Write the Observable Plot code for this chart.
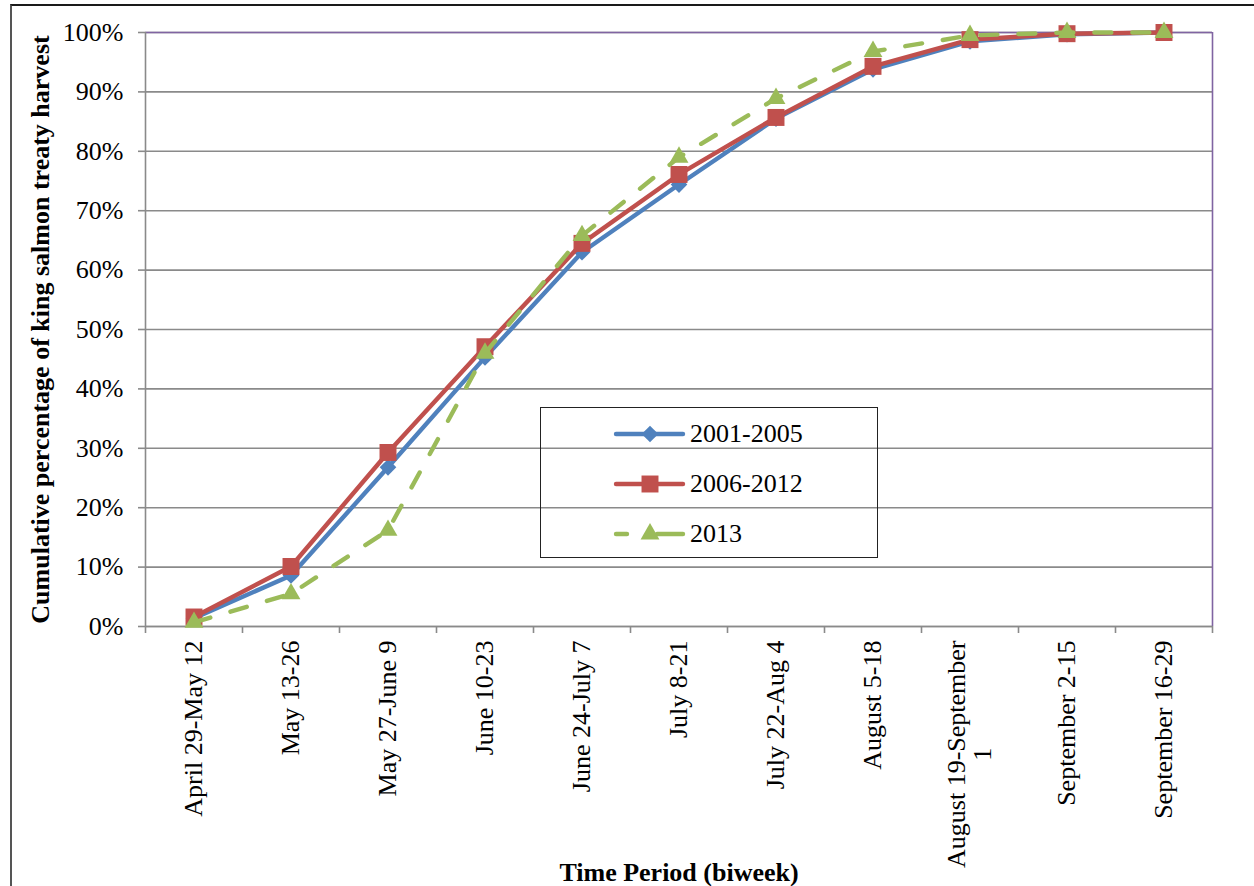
<!DOCTYPE html>
<html>
<head>
<meta charset="utf-8">
<script src="https://cdn.jsdelivr.net/npm/d3@7"></script>
<script src="https://cdn.jsdelivr.net/npm/@observablehq/plot@0.6"></script>
<style>
  html, body { margin: 0; padding: 0; background: #fff; overflow: hidden; }
  #wrap { position: relative; width: 1254px; height: 886px; }
  #frame { position: absolute; left: 10px; top: 4px; width: 1300px; height: 950px;
           border-top: 2px solid #1a1a1a; border-left: 2px solid #555; pointer-events: none; }
  #legend { position: absolute; left: 540px; top: 407px; width: 336px; height: 149px;
            border: 1.5px solid #222; font-family: "Liberation Serif", "Times New Roman", serif;
            font-size: 26px; color: #000; }
  .lg-row { position: absolute; left: 72px; height: 30px; display: flex; align-items: center; }
  .lg-row svg { margin-right: 4px; }
</style>
</head>
<body>
<div id="wrap">
  <div id="chart"></div>
  <div id="frame"></div>
  <div id="legend"></div>
</div>
<script>
const periods = [
  "April 29-May 12", "May 13-26", "May 27-June 9", "June 10-23", "June 24-July 7",
  "July 8-21", "July 22-Aug 4", "August 5-18", "August 19-September\n1",
  "September 2-15", "September 16-29"
];
const seriesNames = ["2001-2005", "2006-2012", "2013"];
const s2001_2005 = [1.4, 8.6, 26.8, 45.3, 63.0, 74.4, 85.5, 93.8, 98.5, 99.7, 100];
const s2006_2012 = [1.6, 10.1, 29.3, 47.1, 64.5, 76.1, 85.7, 94.3, 98.8, 99.8, 100];
const s2013      = [0.7, 5.5, 16.2, 46.0, 65.8, 79.0, 88.9, 96.8, 99.5, 100, 100];
const yTicks = [0, 10, 20, 30, 40, 50, 60, 70, 80, 90, 100];
const yTitle = "Cumulative percentage of king salmon treaty harvest";
const xTitle = "Time Period (biweek)";

const colors = ["#4f81bd", "#c0504d", "#9bbb59"];
const symbols = ["diamond2", "square2", "triangle"];
const radii = [7.5, 10.8, 7];
const dashes = [null, null, "17,21"];

const allSeries = [s2001_2005, s2006_2012, s2013];
const idx = d3.range(periods.length);
const boundaries = d3.range(periods.length + 1).map(i => i - 0.5);

const seriesMarks = allSeries.flatMap((vals, k) => {
  const data = vals.map((v, i) => ({i, v, s: seriesNames[k]}));
  return [
    Plot.line(data, {x: "i", y: "v", stroke: colors[k], strokeWidth: 4.4,
      strokeLinejoin: "round", strokeLinecap: "round",
      strokeDasharray: dashes[k] ?? undefined}),
    Plot.dot(data, {x: "i", y: "v", symbol: () => symbols[k], r: radii[k],
      fill: colors[k], stroke: "none"})
  ];
});

const plot = Plot.plot({
  width: 1254,
  height: 886,
  marginLeft: 145,
  marginRight: 42,
  marginTop: 32,
  marginBottom: 260,
  style: {fontFamily: "'Liberation Serif', 'Times New Roman', serif", fontSize: "26px", color: "#000", background: "transparent", overflow: "visible"},
  x: {domain: [boundaries[0], boundaries[boundaries.length - 1]]},
  y: {domain: [0, 100]},
  marks: [
    Plot.gridY(yTicks, {stroke: "#8a8a8a", strokeOpacity: 1, strokeWidth: 1.6}),
    Plot.ruleY([100], {stroke: "#8064a2", strokeWidth: 1.6}),
    Plot.ruleX([boundaries[boundaries.length - 1]], {stroke: "#8064a2", strokeWidth: 1.6}),
    Plot.ruleX([boundaries[0]], {stroke: "#8a8a8a", strokeWidth: 1.6}),
    Plot.ruleY([0], {stroke: "#8a8a8a", strokeWidth: 1.6}),
    Plot.axisY(yTicks, {tickSize: 7, tickPadding: 15, tickFormat: d => d + "%",
      stroke: "#8a8a8a", strokeWidth: 1.6, fontSize: 26, label: null, fill: "#000"}),
    Plot.axisX(boundaries, {tickSize: 7, tickFormat: () => "", stroke: "#8a8a8a",
      strokeWidth: 1.6, label: null}),
    Plot.axisX(idx, {tickSize: 0, tickPadding: 14, tickRotate: -90,
      tickFormat: i => periods[i], fontSize: 26, label: null, fill: "#000"}),
    Plot.text([yTitle], {frameAnchor: "left", textAnchor: "middle", rotate: -90, dx: -105,
      fontWeight: "bold", fontSize: 26, fill: "#000"}),
    Plot.text([xTitle], {frameAnchor: "bottom", textAnchor: "middle", dy: 254,
      fontWeight: "bold", fontSize: 26, fill: "#000"}),
    ...seriesMarks
  ]
});
document.getElementById("chart").appendChild(plot);

// center wrapped second line of the long tick label
d3.select(plot).selectAll("text").each(function() {
  const tsp = this.querySelectorAll("tspan");
  if (tsp.length === 2 && this.textContent.includes("August 19")) {
    const L = tsp[0].getComputedTextLength();
    tsp[1].setAttribute("x", -L / 2);
    tsp[1].style.textAnchor = "middle";
  }
});

// legend
const legend = document.getElementById("legend");
seriesNames.forEach((name, k) => {
  const row = document.createElement("div");
  row.className = "lg-row";
  row.style.top = (11 + k * 50) + "px";
  const sym = d3.symbol(k === 0 ? d3.symbolDiamond2 : k === 1 ? d3.symbolSquare2 : d3.symbolTriangle,
                        Math.PI * radii[k] * radii[k])();
  const line = k === 2
    ? `<line x1="3" y1="15" x2="14" y2="15" stroke="${colors[k]}" stroke-width="4.4" stroke-linecap="round"/>
       <line x1="44" y1="15" x2="70" y2="15" stroke="${colors[k]}" stroke-width="4.4" stroke-linecap="round"/>`
    : `<line x1="3" y1="15" x2="70" y2="15" stroke="${colors[k]}" stroke-width="4.4" stroke-linecap="round"/>`;
  row.innerHTML = `<svg width="73" height="30">${line}<path transform="translate(37,15)" d="${sym}" fill="${colors[k]}"/></svg><span>${name}</span>`;
  legend.appendChild(row);
});
</script>
</body>
</html>
